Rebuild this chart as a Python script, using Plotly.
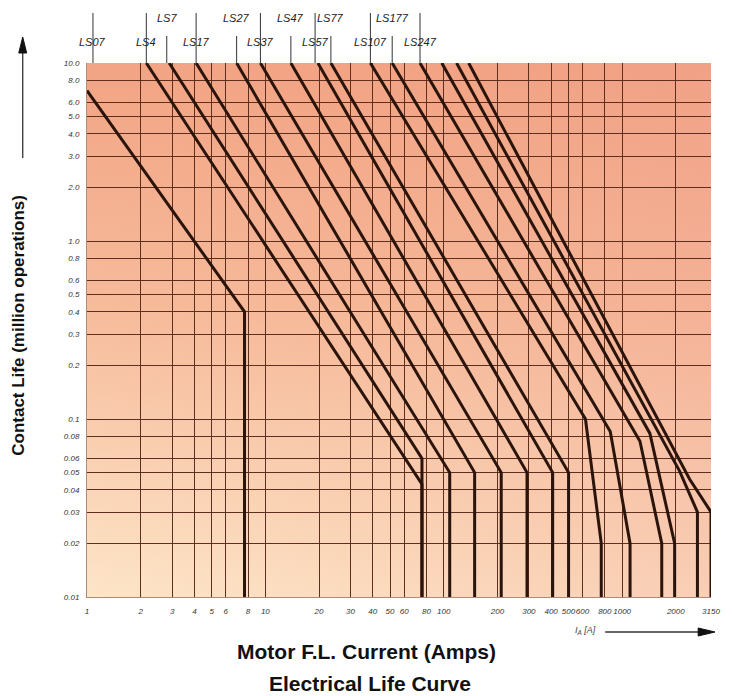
import math
import urllib.parse
import plotly.graph_objects as go

# ---------------- data ----------------
x_ticks = [1, 2, 3, 4, 5, 6, 8, 10, 20, 30, 40, 50, 60, 80, 100, 200, 300, 400,
           500, 600, 800, 1000, 2000, 3150]
x_tick_text = ["1", "2", "3", "4", "5", "6", "8", "10", "20", "30", "40", "50", "60",
               "80", "100", "200", "300", "400", "500", "600", "800", "1000", "2000", "3150"]
y_ticks = [10, 8, 6, 5, 4, 3, 2, 1, 0.8, 0.6, 0.5, 0.4, 0.3, 0.2, 0.1, 0.08, 0.06,
           0.05, 0.04, 0.03, 0.02, 0.01]
y_tick_text = ["10.0", "8.0", "6.0", "5.0", "4.0", "3.0", "2.0", "1.0", "0.8", "0.6",
               "0.5", "0.4", "0.3", "0.2", "0.1", "0.08", "0.06", "0.05", "0.04",
               "0.03", "0.02", "0.01"]

# each curve: current (A) and contact life (million operations)
curve_x = [
    [1.0, 7.64, 7.64],
    [2.15, 75.5, 75.5],
    [2.89, 75.5, 75.5],
    [4.09, 108, 108],
    [6.90, 149, 149],
    [9.38, 210, 210],
    [13.9, 293, 293],
    [19.7, 408, 408],
    [23.3, 501, 501],
    [38.8, 623, 764, 764],
    [51.4, 858, 1108, 1108],
    [73.6, 1259, 1668, 1668],
    [97.5, 1431, 1970, 1970],
    [118, 2100, 2644, 2644],
    [138, 2387, 3150, 3150],
]
curve_y = [
    [7.0, 0.40, 0.01],
    [10, 0.043, 0.01],
    [10, 0.060, 0.01],
    [10, 0.050, 0.01],
    [10, 0.050, 0.01],
    [10, 0.050, 0.01],
    [10, 0.050, 0.01],
    [10, 0.050, 0.01],
    [10, 0.050, 0.01],
    [10, 0.100, 0.020, 0.01],
    [10, 0.085, 0.020, 0.01],
    [10, 0.075, 0.020, 0.01],
    [10, 0.083, 0.020, 0.01],
    [10, 0.051, 0.030, 0.01],
    [10, 0.046, 0.030, 0.01],
]

model_names = ["LS07", "LS4", "LS7", "LS17", "LS27", "LS37", "LS47", "LS57",
               "LS77", "LS107", "LS177", "LS247"]
model_x = [1.08, 2.15, 2.80, 4.09, 6.90, 9.38, 13.9, 19.0, 23.3, 38.8, 51.4, 73.6]
model_row = [0, 0, 1, 0, 1, 0, 1, 0, 1, 0, 1, 0]   # 1 = upper row

# ---------------- layout helpers ----------------
OFF = 8                     # default page margin of the html body
W, H = 724, 688
L, R, T, B = 79, 14, 55, 99
PW, PH = W - L - R, H - T - B
X_MAX = 3150


def px(xw):                 # window pixel -> paper x
    return (xw - OFF - L) / PW


def py(yw):                 # window pixel -> paper y
    return (H - B - (yw - OFF)) / PH


LINE = "#2b140b"
GRID = "#5e2f1e"

fig = go.Figure()

for xs, ys in zip(curve_x, curve_y):
    fig.add_trace(go.Scatter(x=xs, y=ys, mode="lines",
                             line=dict(color=LINE, width=3),
                             hoverinfo="skip", showlegend=False))

svg = (
    "<svg xmlns='http://www.w3.org/2000/svg' width='100' height='100' preserveAspectRatio='none'>"
    "<defs>"
    "<linearGradient id='v' x1='0' y1='0' x2='0' y2='1'>"
    "<stop offset='0' stop-color='#f2a484'/>"
    "<stop offset='0.45' stop-color='#f6bb9b'/>"
    "<stop offset='1' stop-color='#fde5c8'/>"
    "</linearGradient>"
    "<linearGradient id='h' x1='0' y1='0' x2='1' y2='0'>"
    "<stop offset='0' stop-color='#f3a07e' stop-opacity='0'/>"
    "<stop offset='1' stop-color='#ef9a8a' stop-opacity='0.3'/>"
    "</linearGradient>"
    "</defs>"
    "<rect width='100' height='100' fill='url(#v)'/>"
    "<rect width='100' height='100' fill='url(#h)'/>"
    "</svg>"
)
svg_uri = "data:image/svg+xml;charset=utf-8," + urllib.parse.quote(svg)

fig.add_layout_image(dict(source=svg_uri, xref="paper", yref="paper", x=0, y=1,
                          sizex=1, sizey=1, xanchor="left", yanchor="top",
                          sizing="stretch", layer="below"))

tick_font = dict(family="Liberation Sans, Arial", size=8, color="#333333", style="italic")

fig.update_xaxes(type="log", range=[0, math.log10(X_MAX)], tickvals=x_ticks,
                 ticktext=x_tick_text, tickangle=0, showgrid=True, gridcolor=GRID,
                 gridwidth=1.2, zeroline=False, showline=True, linecolor="#b08a78",
                 linewidth=1, ticks="", tickfont=tick_font, ticklabelstandoff=6)
fig.update_yaxes(type="log", range=[-2, 1], tickvals=y_ticks, ticktext=y_tick_text,
                 showgrid=True, gridcolor=GRID, gridwidth=1.2, zeroline=False,
                 showline=True, linecolor="#b08a78", linewidth=1, ticks="",
                 tickfont=tick_font, ticklabelstandoff=5)

annotations = []
shapes = []
for name, xv, row in zip(model_names, model_x, model_row):
    ytxt = 1 + (45 if row else 21) / PH
    ytop = 1 + (27 if row else 50) / PH
    annotations.append(dict(x=math.log10(xv), xref="x", y=ytxt, yref="paper",
                            text=name, showarrow=False, xanchor="center", yanchor="middle",
                            font=dict(family="Liberation Sans, Arial", size=11,
                                      color="#222", style="italic")))
    shapes.append(dict(type="line", xref="x", yref="paper", x0=xv, x1=xv,
                       y0=ytop, y1=1, line=dict(color="#333", width=1)))

# arrows drawn as shapes (shaft + filled head)
shapes += [
    dict(type="line", xref="paper", yref="paper", x0=px(22), x1=px(22), y0=py(158), y1=py(50),
         line=dict(color="#333", width=1.3)),
    dict(type="path", xref="paper", yref="paper",
         path=f"M {px(22)} {py(37)} L {px(18)} {py(53)} L {px(26)} {py(53)} Z",
         fillcolor="#111", line=dict(color="#111", width=1)),
    dict(type="line", xref="paper", yref="paper", x0=px(611), x1=px(708), y0=py(632), y1=py(632),
         line=dict(color="#333", width=1.3)),
    dict(type="path", xref="paper", yref="paper",
         path=f"M {px(722)} {py(632)} L {px(705)} {py(628)} L {px(705)} {py(636)} Z",
         fillcolor="#111", line=dict(color="#111", width=1)),
]

annotations += [
    dict(x=px(17), y=py(325), xref="paper", yref="paper",
         text="<b>Contact Life (million operations)</b>", textangle=-90, showarrow=False,
         xanchor="center", yanchor="middle",
         font=dict(family="Liberation Sans, Arial", size=17, color="#111")),
    dict(x=px(370), y=py(651), xref="paper", yref="paper",
         text="<b>Motor F.L. Current (Amps)</b>", showarrow=False,
         xanchor="center", yanchor="middle",
         font=dict(family="Liberation Sans, Arial", size=21, color="#111")),
    dict(x=px(373), y=py(683), xref="paper", yref="paper",
         text="<b>Electrical Life Curve</b>", showarrow=False,
         xanchor="center", yanchor="middle",
         font=dict(family="Liberation Sans, Arial", size=21, color="#111")),
    dict(x=px(591), y=py(630), xref="paper", yref="paper", text="I<sub>A</sub> [A]",
         showarrow=False, xanchor="center", yanchor="middle",
         font=dict(family="Liberation Sans, Arial", size=9, color="#444", style="italic")),
]

fig.update_layout(width=W, height=H, margin=dict(l=L, r=R, t=T, b=B),
                  paper_bgcolor="white", plot_bgcolor="rgba(0,0,0,0)",
                  annotations=annotations, shapes=shapes, showlegend=False)

fig.write_html("out.html")
